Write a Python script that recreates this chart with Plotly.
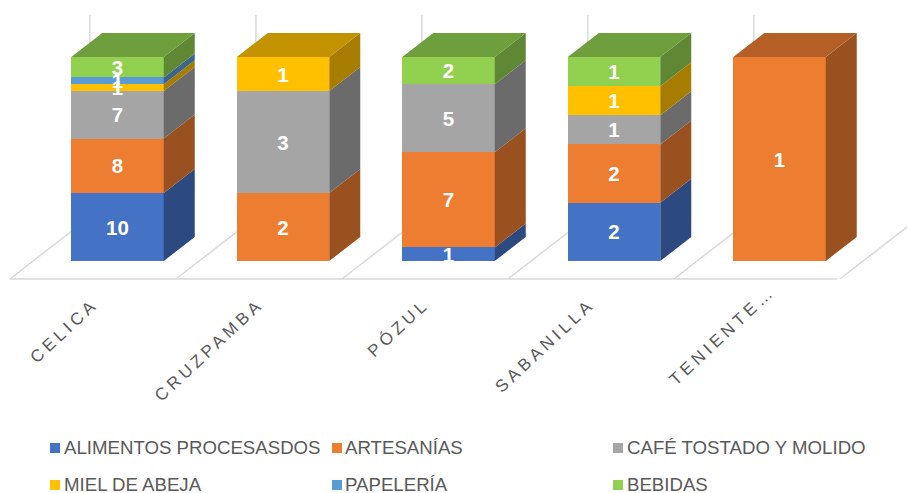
import plotly.graph_objects as go

categories = ["CELICA", "CRUZPAMBA", "PÓZUL", "SABANILLA", "TENIENTE…"]
series_names = ["ALIMENTOS PROCESASDOS", "ARTESANÍAS", "CAFÉ TOSTADO Y MOLIDO",
                "MIEL DE ABEJA", "PAPELERÍA", "BEBIDAS"]
alimentos = [10, None, 1, 2, None]
artesanias = [8, 2, 7, 2, 1]
cafe = [7, 3, 5, 1, None]
miel = [1, 1, None, 1, None]
papeleria = [1, None, None, None, None]
bebidas = [3, None, 2, 1, None]
series_values = [alimentos, artesanias, cafe, miel, papeleria, bebidas]
colors = ["#4472C4", "#ED7D31", "#A5A5A5", "#FFC000", "#5B9BD5", "#92D050"]

W, H = 907, 493
FLOOR_PX = 282          # bottom of plot area
FLOOR_LINE_PX = 279
X0_PX, STEP_PX = 117.5, 165.5
Y0_PX, PX_PER_PCT = 261.0, 2.04
xr = [(0 - X0_PX) / STEP_PX, (W - X0_PX) / STEP_PX]
yr = [-(FLOOR_PX - Y0_PX) / PX_PER_PCT, Y0_PX / PX_PER_PCT]
floor_y = -(FLOOR_LINE_PX - Y0_PX) / PX_PER_PCT
BAR_W = 92.5 / STEP_PX
DX = 31 / STEP_PX
DY = 24 / PX_PER_PCT
FLOOR_DX = 80 / STEP_PX
FLOOR_DY = 62 / PX_PER_PCT
LABEL_NUDGE = 2.5 / PX_PER_PCT
GRID = "#D9D9D9"


def shade(hex_color, f):
    r, g, b = (int(hex_color[i:i + 2], 16) for i in (1, 3, 5))
    return f"rgb({round(r * f)},{round(g * f)},{round(b * f)})"


xs = list(range(len(categories)))
totals = [sum(s[i] or 0 for s in series_values) for i in xs]

fig = go.Figure()

# front faces
for name, vals, col in zip(series_names, series_values, colors):
    fig.add_trace(go.Bar(x=xs, y=vals, name=name, width=BAR_W, marker=dict(color=col, line=dict(width=0)),
                         showlegend=False, hoverinfo="name+y"))

# side and top faces, value labels
lab_x, lab_y, lab_t = [], [], []
for i in xs:
    base = 0.0
    xl, xr_face = i - BAR_W / 2, i + BAR_W / 2
    last = None
    for vals, col in zip(series_values, colors):
        v = vals[i]
        if not v:
            continue
        top = base + 100.0 * v / totals[i]
        fig.add_trace(go.Scatter(
            x=[xr_face, xr_face + DX, xr_face + DX, xr_face, xr_face],
            y=[base, base + DY, top + DY, top, base],
            mode="lines", fill="toself", fillcolor=shade(col, 0.65),
            line=dict(width=0), showlegend=False, hoverinfo="skip"))
        lab_x.append(i)
        lab_y.append((base + top) / 2 - LABEL_NUDGE)
        lab_t.append(str(v))
        base = top
        last = col
    fig.add_trace(go.Scatter(
        x=[xl, xr_face, xr_face + DX, xl + DX, xl],
        y=[base, base, base + DY, base + DY, base],
        mode="lines", fill="toself", fillcolor=shade(last, 0.76),
        line=dict(width=0), showlegend=False, hoverinfo="skip"))

fig.add_trace(go.Scatter(x=lab_x, y=lab_y, text=lab_t, mode="text", showlegend=False, cliponaxis=False,
                         textfont=dict(family="Liberation Sans", size=20.5, color="white", weight="bold"),
                         textposition="middle center", hoverinfo="skip"))

# floor and wall grid
shapes = []
fx0 = -0.65
line = dict(color=GRID, width=1.5)
n = len(categories)
shapes.append(dict(type="line", layer="below", xref="x", yref="y", x0=fx0, x1=fx0 + n, y0=floor_y, y1=floor_y, line=line))
for k in range(n + 1):
    fx = fx0 + k * 1.003
    shapes.append(dict(type="line", layer="below", xref="x", yref="y", x0=fx, x1=fx + FLOOR_DX,
                       y0=floor_y, y1=floor_y + FLOOR_DY, line=line))
    shapes.append(dict(type="line", layer="below", xref="x", yref="y", x0=fx + FLOOR_DX, x1=fx + FLOOR_DX,
                       y0=floor_y + FLOOR_DY, y1=(Y0_PX - 15) / PX_PER_PCT, line=line))

# legend built as squares and text
annotations = []
legend_text_x = [64, 345, 627]
legend_mark_x = [50, 332, 613]
legend_rows = [448, 485]
px = lambda v: v / W
py = lambda v: (FLOOR_PX - v) / FLOOR_PX
for j, (name, col) in enumerate(zip(series_names, colors)):
    mx = legend_mark_x[j % 3]
    tx = legend_text_x[j % 3]
    ty = legend_rows[j // 3]
    shapes.append(dict(type="rect", xref="paper", yref="paper", x0=px(mx), x1=px(mx + 10),
                       y0=py(ty + 5), y1=py(ty - 5), fillcolor=col, line=dict(width=0)))
    annotations.append(dict(text=name, xref="paper", yref="paper", x=px(tx), y=py(ty - 0.5), xanchor="left",
                            yanchor="middle", showarrow=False, xshift=-2,
                            font=dict(family="Liberation Sans", size=18.65, color="#595959")))

fig.update_layout(
    width=W, height=H, autosize=False, barmode="stack", barnorm="percent",
    paper_bgcolor="white", plot_bgcolor="rgba(0,0,0,0)",
    margin=dict(l=0, r=0, t=0, b=H - FLOOR_PX), shapes=shapes, annotations=annotations,
    showlegend=False,
    xaxis=dict(range=xr, tickmode="array", tickvals=xs, ticktext=categories, tickangle=-43,
               showgrid=False, zeroline=False, showline=False, ticks="",
               ticklabelshift=-24, ticklabelstandoff=8, automargin=False,
               tickfont=dict(family="Liberation Sans", size=17, color="#595959")),
    yaxis=dict(range=yr, visible=False, showgrid=False, zeroline=False),
)

post = """
document.documentElement.style.overflow='hidden';
document.body.style.margin='0';
var ticks = document.querySelectorAll('.xtick text');
ticks.forEach(function(t){t.style.letterSpacing='4px';});
var lastTick = ticks[ticks.length-1];
lastTick.setAttribute('transform', 'translate(15,-13) ' + lastTick.getAttribute('transform'));
"""
fig.write_html("out.html", post_script=post, config={"displayModeBar": False})
